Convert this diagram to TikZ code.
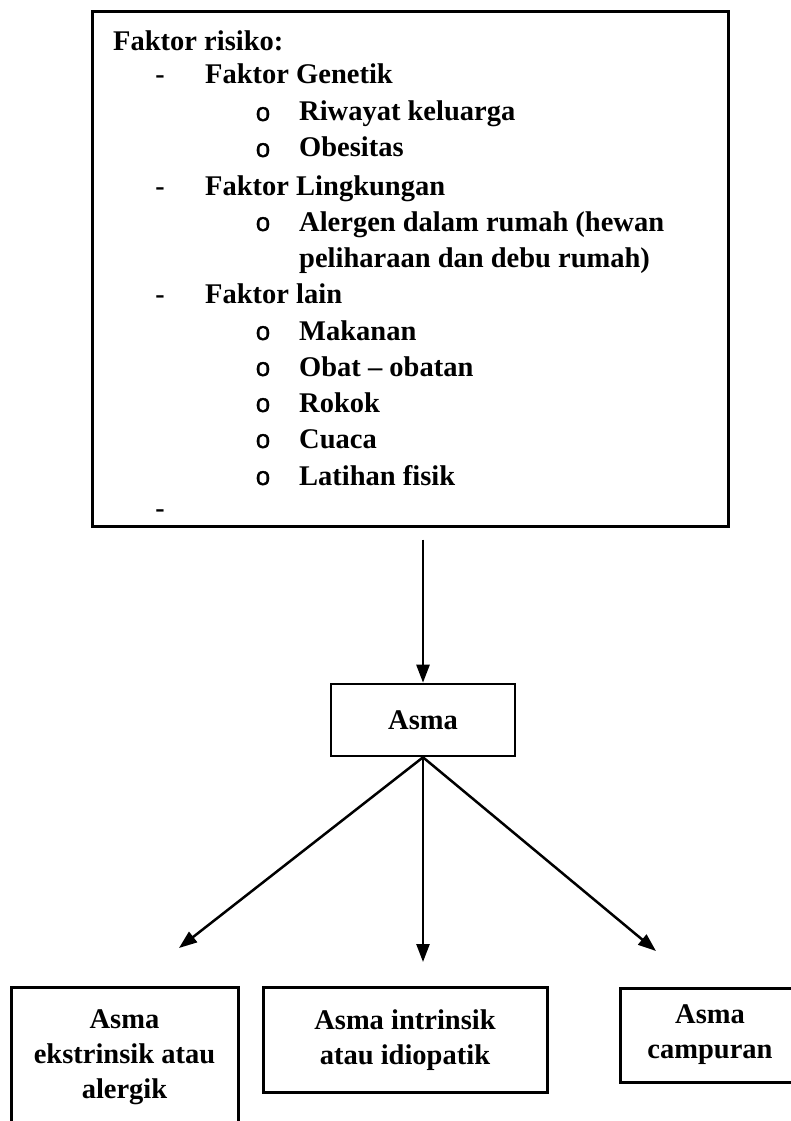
\documentclass[tikz,border=0pt]{standalone}
\usepackage{fontspec}
\setmainfont{Liberation Serif}
\newfontfamily\bulletfont{Liberation Mono}[FakeBold=1]
\newcommand{\bulletmark}{{\fontsize{26}{35}\selectfont\bulletfont\mdseries o}}
\usetikzlibrary{arrows.meta}
\tikzset{
  box/.style={draw, line width=3pt, inner sep=0pt},
  txt/.style={anchor=base west, inner sep=0pt, font=\fontsize{28.5}{35}\selectfont\bfseries},
  bmark/.style={anchor=base, inner sep=0pt, font=\fontsize{28}{35}\selectfont\bfseries},
  btext/.style={align=center, font=\fontsize{28.5}{35}\selectfont\bfseries},
  conn/.style={line width=2.5pt, -{Triangle[length=18pt,width=13pt]}},
}
\begin{document}
\begin{tikzpicture}[x=1pt,y=-1pt]
\useasboundingbox (0,0) rectangle (791,1121);
% risk factor box
\node[box, minimum width=636pt, minimum height=514pt] (risk) at (410,269) {};
\node[txt] (l0) at (113,51) {Faktor risiko:};
\node[bmark] (d1) at (160,84) {-};
\node[txt] (l1) at (205,84) {Faktor Genetik};
\node[bmark] (b2) at (263,121) {\bulletmark};
\node[txt] (l2) at (299,121) {Riwayat keluarga};
\node[bmark] (b3) at (263,157) {\bulletmark};
\node[txt] (l3) at (299,157) {Obesitas};
\node[bmark] (d4) at (160,195) {-};
\node[txt] (l4) at (205,195) {Faktor Lingkungan};
\node[bmark] (b5) at (263,231) {\bulletmark};
\node[txt] (l5) at (299,231) {Alergen dalam rumah (hewan};
\node[txt] (l6) at (299,267) {peliharaan dan debu rumah)};
\node[bmark] (d7) at (160,303) {-};
\node[txt] (l7) at (205,303) {Faktor lain};
\node[bmark] (b8) at (263,340) {\bulletmark};
\node[txt] (l8) at (299,340) {Makanan};
\node[bmark] (b9) at (263,376) {\bulletmark};
\node[txt] (l9) at (299,376) {Obat – obatan};
\node[bmark] (b10) at (263,412) {\bulletmark};
\node[txt] (l10) at (299,412) {Rokok};
\node[bmark] (b11) at (263,448) {\bulletmark};
\node[txt] (l11) at (299,448) {Cuaca};
\node[bmark] (b12) at (263,485) {\bulletmark};
\node[txt] (l12) at (299,485) {Latihan fisik};
\node[bmark] (d13) at (160,517) {-};
% Asma box
\node[box, line width=2.6pt, minimum width=184pt, minimum height=72pt, btext] (asma) at (423,720) {Asma};
% lower boxes
\node[box, minimum width=227pt, minimum height=140pt, btext] (ext) at (124.5,1057) {Asma\\ekstrinsik atau\\alergik};
\node[box, minimum width=284pt, minimum height=105pt, btext] (intr) at (405,1040) {Asma intrinsik\\atau idiopatik};
\node[box, minimum width=180pt, minimum height=94pt, btext] (camp) at (710,1035) {Asma\\campuran};
% connectors
\coordinate (top) at (risk.south -| asma.north);
\draw[conn, shorten <=12pt] (top) -- (asma.north);
\coordinate (tL) at (179,948);
\coordinate (tM) at (423,962);
\coordinate (tR) at (656,951);
\draw[conn] (asma.south) -- (tL);
\draw[conn] (asma.south) -- (tM);
\draw[conn] (asma.south) -- (tR);
\end{tikzpicture}
\end{document}
